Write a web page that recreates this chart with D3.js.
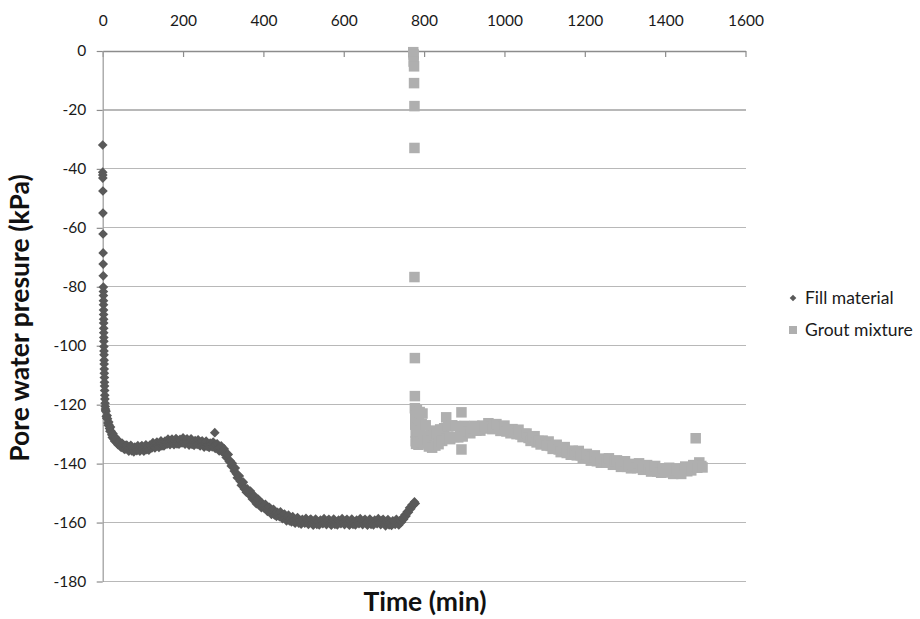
<!DOCTYPE html>
<html><head><meta charset="utf-8">
<script src="https://cdn.jsdelivr.net/npm/d3@7"></script>
<style>
html,body{margin:0;padding:0;background:#fff;}
svg{display:block;}
</style></head>
<body>
<svg id="chart" width="920" height="619"></svg>
<script>
// ---------- data ----------
const xTicks = [0, 200, 400, 600, 800, 1000, 1200, 1400, 1600];
const yTicks = [0, -20, -40, -60, -80, -100, -120, -140, -160, -180];
const seriesNames = ["Fill material", "Grout mixture"];

const fillTime = [
 0,0,0.2,0.3,0.5,0.7,0.9,1.1,1.2,1.4,1.6,
 1.7,1.8,1.9,2.0,2.1,2.2,2.3,2.4,2.5,2.6,2.8,2.9,3.0,3.2,3.3,3.5,3.6,3.8,4.0,4.2,4.4,4.6,4.9,5.2,5.5,5.9,6.3,6.8,7.4,
 8.1,9,10,11,12,13,14,15,16,17,18,19.5,21,22.5,24,25.5,27,28.5,30,32,34,36,38,40,42,44,46,48,50,52.5,55,57.5,
 60,62.5,65,67.5,70,72.5,75,77.5,80,82.5,85,87.5,90,92.5,95,97.5,100,102.5,105,107.5,110,112.5,115,117.5,120,122.5,125,127.5,130,132.5,
 135,137.5,140,142.5,145,147.5,150,152.5,155,157.5,160,162.5,165,167.5,170,172.5,175,177.5,180,182.5,185,187.5,190,192.5,195,197.5,200,202.5,205,207.5,
 210,212.5,215,217.5,220,222.5,225,227.5,230,232.5,235,237.5,240,242.5,245,247.5,250,252.5,255,257.5,260,262.5,265,267.5,270,272.5,275,277.5,279,
 280,282.5,285,287.5,290,292.5,295,297.5,300,
 302.5,305,307.5,310,312.5,315,317.5,320,322.5,325,327.5,330,332.5,335,337.5,340,342.5,345,347.5,350,
 352.5,355,357.5,360,362.5,365,367.5,370,372.5,375,377.5,380,382.5,385,387.5,390,392.5,395,397.5,400,
 402.5,405,407.5,410,412.5,415,417.5,420,422.5,425,427.5,430,432.5,435,437.5,440,442.5,445,447.5,450,
 452.5,455,457.5,460,462.5,465,467.5,470,
 473,476,479,482,485,488,491,494,497,500,503,506,509,512,515,518,521,524,527,530,
 533,536,539,542,545,548,551,554,557,560,563,566,569,572,575,578,581,584,587,590,
 593,596,599,602,605,608,611,614,617,620,623,626,629,632,635,638,641,644,647,650,
 653,656,659,662,665,668,671,674,677,680,683,686,689,692,695,698,701,704,707,710,
 713,716,719,722,725,728,731,734,737,740,
 743,746,749,752,755,758,761,764,767,770,773,776,778
];
const fillPressure = [
 -31.9,-41.1,-42.1,-43.1,-47.5,-55.0,-62.1,-68.5,-72.3,-76.3,-80.1,
 -81.6,-83.0,-84.7,-86.1,-87.9,-89.4,-91.0,-92.3,-94.1,-95.6,-97.2,-98.5,-100.3,-101.8,-103.1,-104.9,-106.2,-107.9,-109.3,-110.8,-112.4,-113.7,-115.2,-116.8,-118.1,-119.5,-120.6,-121.5,-122.0,
 -122.3,-124.0,-124.6,-123.7,-124.8,-126.2,-127.0,-125.9,-126.9,-128.1,-129.0,-127.6,-129.0,-130.2,-131.1,-129.8,-130.6,-131.8,-132.4,-131.1,-131.8,-133.0,-133.6,-132.4,-132.7,-134.1,-134.5,-133.0,-133.5,-134.9,-135.2,-133.8,
 -133.7,-135.1,-135.8,-134.5,-133.8,-135.7,-134.9,-136.0,-134.4,-134.8,-135.6,-133.9,-135.1,-135.8,-134.3,-133.9,-135.1,-135.8,-134.3,-133.6,-135.3,-134.5,-135.4,-133.7,-134.0,-134.7,-132.9,-134.1,-134.7,-133.2,
 -132.7,-133.9,-134.5,-133.0,-132.3,-134.0,-133.1,-134.0,-132.4,-132.7,-133.4,-131.7,-132.9,-133.6,-132.1,-131.7,-133.0,-133.6,-132.2,-131.5,-133.3,-132.4,-133.4,-131.8,-132.2,-133.0,-131.3,-132.6,-133.4,-132.0,
 -131.6,-132.9,-133.7,-132.3,-131.6,-133.5,-132.7,-133.8,-132.2,-132.7,-133.5,-131.9,-133.2,-134.0,-132.6,-132.3,-133.6,-134.4,-133.0,-132.4,-134.2,-133.5,-134.5,-133.0,-133.4,-134.3,-132.7,-134.0,-129.5,
 -134.8,-133.5,-133.3,-134.8,-135.7,-134.5,-134.0,-136.0,-135.5,
 -135.0,-136.7,-137.9,-137.0,-136.9,-139.3,-139.1,-140.8,-139.9,-141.0,-142.5,-141.5,-143.4,-144.8,-144.0,-144.2,-146.0,-147.3,-146.4,-146.3,
 -148.6,-148.3,-149.7,-148.6,-149.4,-150.6,-149.3,-151.0,-152.0,-151.0,-150.9,-152.6,-153.6,-152.5,-152.1,-154.2,-153.6,-154.9,-153.5,-154.2,
 -155.2,-153.8,-155.3,-156.2,-155.0,-154.8,-156.3,-157.2,-156.0,-155.5,-157.4,-156.8,-157.9,-156.5,-157.0,-158.0,-156.4,-157.9,-158.7,-157.4,
 -157.1,-158.6,-159.4,-158.1,-157.5,-159.4,-158.7,-159.8,
 -158.0,-159.4,-160.2,-158.9,-158.3,-160.2,-159.4,-160.5,-158.9,-159.4,-160.2,-158.6,-159.9,-160.6,-159.2,-158.8,-160.2,-160.9,-159.5,-158.8,
 -160.6,-159.8,-160.8,-159.2,-159.6,-160.4,-158.7,-160.0,-160.7,-159.3,-158.9,-160.2,-160.9,-159.5,-158.8,-160.6,-159.8,-160.8,-159.2,-159.6,
 -160.4,-158.7,-160.0,-160.7,-159.3,-158.9,-160.2,-160.9,-159.5,-158.8,-160.6,-159.8,-160.8,-159.2,-159.6,-160.4,-158.7,-160.0,-160.7,-159.3,
 -158.9,-160.2,-160.9,-159.5,-158.8,-160.6,-159.8,-160.8,-159.2,-159.6,-160.4,-158.7,-160.0,-160.7,-159.3,-158.9,-160.4,-161.1,-159.7,-159.0,
 -160.8,-160.0,-161.0,-159.4,-159.8,-160.6,-158.9,-160.2,-160.8,-159.3,
 -159.9,-158.5,-158.9,-157.4,-157.8,-156.3,-156.5,-155.0,-155.3,-154.0,-154.1,-153.0,-153.5
];

const groutTime = [
 773,774,774,775,775,776,776,776,777,777,
 777,778,778,779,779,780,781,782,783,784,786,787,789,790,792,794,796,798,800,
 804,808,812,816,820,824,828,832,836,840,845,850,855,857,860,865,870,875,880,885,890,893,893,896,900,
 905,910,915,920,925,930,935,940,945,950,955,960,965,970,975,980,985,990,995,1000,
 1005,1010,1015,1020,1025,1030,1035,1040,1045,1050,1055,1060,1065,1070,1075,1080,1085,1090,1095,1100,
 1105,1110,1115,1120,1125,1130,1135,1140,1145,1150,1155,1160,1165,1170,1175,1180,1185,1190,1195,1200,
 1205,1210,1215,1220,1225,1230,1235,1240,1245,1250,1255,1260,1265,1270,1275,1280,1285,1290,1295,1300,
 1305,1310,1315,1320,1325,1330,1335,1340,1345,1350,1355,1360,1365,1370,1375,1380,1385,1390,1395,1400,
 1405,1410,1415,1420,1425,1430,1435,1440,1445,1450,
 1455,1460,1465,1470,1475,1476,1480,1485,1490,1493
];
const groutPressure = [
 -0.4,-1.2,-3.6,-5.2,-10.9,-18.7,-32.9,-76.7,-104.2,-117.1,
 -121.2,-123.6,-126.8,-129.5,-132.4,-133.3,-125.0,-121.8,-127.9,-131.0,-133.6,-124.6,-122.5,-129.0,-132.8,-126.5,-123.0,-130.5,-133.2,
 -127.0,-131.9,-134.2,-128.8,-134.6,-130.5,-133.9,-129.6,-133.4,-128.4,-132.3,-128.0,-124.3,-131.4,-127.4,-131.7,-127.0,-131.0,-127.3,-131.1,-127.5,-122.6,-135.2,-130.8,-127.2,
 -128.0,-129.1,-129.7,-128.1,-127.2,-128.8,-127.9,-128.8,-127.1,-127.4,-128.1,-126.3,-127.6,-128.3,-126.9,-126.6,-128.0,-128.9,-127.6,-127.1,
 -129.1,-128.5,-129.7,-128.3,-129.0,-130.0,-128.5,-130.1,-131.0,-129.9,-129.8,-131.3,-132.3,-131.2,-130.7,-132.8,-132.3,-133.5,-132.2,-132.9,
 -133.9,-132.5,-134.0,-135.0,-133.8,-133.6,-135.2,-136.1,-134.9,-134.4,-136.4,-135.8,-137.0,-135.6,-136.2,-137.2,-135.7,-137.2,-138.1,-136.9,
 -136.7,-138.1,-139.0,-137.8,-137.2,-139.2,-138.6,-139.7,-138.3,-138.8,-139.7,-138.2,-139.6,-140.4,-139.1,-138.9,-140.3,-141.1,-139.8,-139.2,
 -141.1,-140.5,-141.6,-140.1,-140.6,-141.5,-139.9,-141.3,-142.1,-140.8,-140.5,-141.9,-142.7,-141.4,-140.8,-142.7,-142.0,-143.1,-141.6,-142.1,
 -143.0,-141.4,-142.8,-143.5,-142.2,-141.8,-143.0,-143.5,-141.9,-141.0,
 -142.6,-141.5,-142.3,-140.5,-140.8,-131.4,-141.4,-139.6,-140.8,-141.3
];

// ---------- layout ----------
const svg = d3.select("#chart");
const FONT = "Lato, 'Open Sans', sans-serif";
const x = d3.scaleLinear().domain([0, 1600]).range([102.7, 745.5]);
const y = d3.scaleLinear().domain([0, -180]).range([51, 581.5]);

const fillColor = "#595959";
const groutColor = "#afafaf";

// gridlines
svg.append("g").selectAll("line")
  .data(yTicks.filter(d => d !== 0))
  .join("line")
  .attr("x1", x(0)).attr("x2", x(1600))
  .attr("y1", d => y(d)).attr("y2", d => y(d))
  .attr("stroke", "#b8b8b8").attr("stroke-width", 1.2)
  .attr("shape-rendering", "crispEdges");

// top axis
const topAxis = svg.append("g").attr("transform", `translate(0,${y(0)})`)
  .call(d3.axisTop(x).tickValues(xTicks).tickFormat(d3.format("d"))
        .tickSizeInner(-6).tickSizeOuter(0).tickPadding(25));
topAxis.select(".domain").attr("stroke", "#8c8c8c").attr("stroke-width", 1.3);
topAxis.selectAll(".tick line").attr("stroke", "#8c8c8c").attr("stroke-width", 1.2);
topAxis.selectAll("text").attr("font-family", FONT).attr("font-size", 15.5).attr("fill", "#1a1a1a");

// left axis
const leftAxis = svg.append("g").attr("transform", `translate(${x(0)},0)`)
  .call(d3.axisLeft(y).tickValues(yTicks).tickFormat(d => d === 0 ? "0" : "-" + Math.abs(d))
        .tickSizeInner(6).tickSizeOuter(0).tickPadding(10.5));
leftAxis.select(".domain").attr("stroke", "#a0a0a0").attr("stroke-width", 1.3);
leftAxis.selectAll(".tick line").attr("stroke", "#8c8c8c").attr("stroke-width", 1.2);
leftAxis.selectAll("text").attr("font-family", FONT).attr("font-size", 15.5).attr("fill", "#1a1a1a");

// series
const diamond = d3.symbol().type(d3.symbolDiamond2).size(60);
const fillData = fillTime.map((t, i) => [t, fillPressure[i]]);
const groutData = groutTime.map((t, i) => [t, groutPressure[i]]);

svg.append("g").selectAll("path")
  .data(fillData).join("path")
  .attr("d", diamond)
  .attr("transform", d => `translate(${x(d[0])},${y(d[1])})`)
  .attr("fill", fillColor);

const sq = 10.5;
svg.append("g").selectAll("rect")
  .data(groutData).join("rect")
  .attr("x", d => x(d[0]) - sq / 2).attr("y", d => y(d[1]) - sq / 2)
  .attr("width", sq).attr("height", sq)
  .attr("fill", groutColor);

// axis titles
svg.append("text")
  .attr("transform", `translate(29,318) rotate(-90)`)
  .attr("text-anchor", "middle")
  .attr("font-family", FONT).attr("font-weight", "bold").attr("font-size", 26.5)
  .attr("fill", "#111")
  .text("Pore water presure (kPa)");

svg.append("text")
  .attr("x", 425).attr("y", 611)
  .attr("text-anchor", "middle")
  .attr("font-family", FONT).attr("font-weight", "bold").attr("font-size", 26.5)
  .attr("fill", "#111")
  .text("Time (min)");

// legend
const legend = svg.append("g");
legend.append("path")
  .attr("d", d3.symbol().type(d3.symbolDiamond2).size(28))
  .attr("transform", "translate(793,298)")
  .attr("fill", fillColor);
legend.append("rect")
  .attr("x", 789).attr("y", 326).attr("width", 8).attr("height", 8)
  .attr("fill", groutColor);
legend.selectAll("text.lg")
  .data(seriesNames).join("text").attr("class", "lg")
  .attr("x", 805).attr("y", (d, i) => 298 + i * 32)
  .attr("dy", "0.35em")
  .attr("font-family", FONT).attr("font-size", 17.5).attr("fill", "#1a1a1a")
  .text(d => d);
</script>
</body></html>
